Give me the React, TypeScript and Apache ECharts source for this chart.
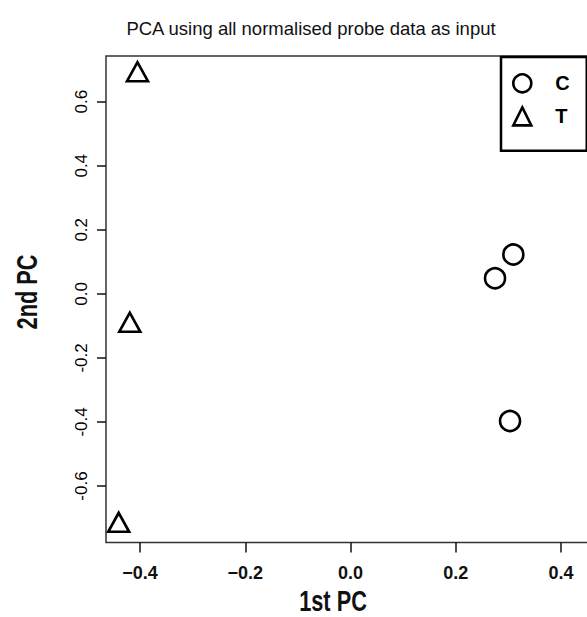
import React, { useEffect, useRef } from "react";
import * as echarts from "echarts";

const titleText = "PCA using all normalised probe data as input";
const xAxisTitle = "1st PC";
const yAxisTitle = "2nd PC";
const seriesNames = ["C", "T"];
const cX = [0.3094, 0.2746, 0.3031];
const cY = [0.1229, 0.0486, -0.397];
const tX = [-0.4048, -0.4194, -0.4405];
const tY = [0.6834, -0.0988, -0.7234];
const xTicks = [-0.4, -0.2, 0, 0.2, 0.4];
const yTicks = [-0.6, -0.4, -0.2, 0, 0.2, 0.4, 0.6];

const X_MIN = -0.4646;
const X_MAX = 0.46;
const Y_MIN = -0.7764;
const Y_MAX = 0.7427;

export default function App() {
  const ref = useRef<HTMLDivElement>(null);
  useEffect(() => {
    if (!ref.current) return;
    const chart = echarts.init(ref.current, undefined, { renderer: "svg" });
    const font = "'Liberation Sans', Arial, Helvetica, sans-serif";
    const ptStyle = {
      color: "rgba(0,0,0,0)",
      borderColor: "#000",
      borderWidth: 2.6,
      opacity: 1,
    };
    chart.setOption({
      animation: false,
      backgroundColor: "#fff",
      title: {
        text: titleText,
        left: 306,
        top: 14,
        textAlign: "center",
        textStyle: { fontFamily: font, fontSize: 18.5, fontWeight: "normal", color: "#111" },
      },
      legend: {
        left: 501,
        top: 57,
        orient: "vertical",
        borderColor: "#000",
        borderWidth: 2.5,
        padding: [16, 17, 24, 11],
        itemGap: 12.5,
        itemWidth: 18,
        itemHeight: 18,
        textStyle: {
          fontFamily: font,
          fontSize: 20,
          fontWeight: "bold",
          color: "#000",
          lineHeight: 18,
          padding: [0, 0, 0, 19],
        },
        data: [
          { name: seriesNames[0], icon: "circle", itemStyle: { ...ptStyle } },
          { name: seriesNames[1], icon: "triangle", itemStyle: { ...ptStyle } },
        ],
      },
      grid: {
        left: 106,
        top: 56,
        width: 486.6,
        height: 486.5,
        show: true,
        borderColor: "#333",
        borderWidth: 1.5,
        backgroundColor: "transparent",
      },
      xAxis: {
        type: "value",
        min: X_MIN,
        max: X_MAX,
        splitLine: { show: false },
        axisLine: { show: false, onZero: false },
        axisTick: {
          show: true,
          length: 10,
          lineStyle: { color: "#111", width: 1.5 },
          customValues: xTicks,
        },
        axisLabel: {
          customValues: xTicks,
          margin: 21,
          fontFamily: font,
          fontSize: 18,
          fontWeight: "bold",
          color: "#111",
          formatter: (v: number) => (v < 0 ? "\u2212" + Math.abs(v).toFixed(1) : v.toFixed(1)),
        },
      },
      yAxis: {
        type: "value",
        min: Y_MIN,
        max: Y_MAX,
        splitLine: { show: false },
        axisLine: { show: false, onZero: false },
        axisTick: {
          show: true,
          length: 9,
          lineStyle: { color: "#111", width: 1.5 },
          customValues: yTicks,
        },
        axisLabel: {
          customValues: yTicks,
          rotate: 90,
          margin: 16,
          fontFamily: font,
          fontSize: 17,
          color: "#000",
          formatter: (v: number) => (v < 0 ? "-" + Math.abs(v).toFixed(1) : v.toFixed(1)),
        },
      },
      graphic: [
        {
          type: "text",
          x: 333,
          y: 601,
          scaleX: 0.75,
          style: {
            text: xAxisTitle,
            fontFamily: font,
            fontSize: 29,
            fontWeight: "bold",
            fill: "#111",
            textAlign: "center",
            textVerticalAlign: "middle",
          },
        },
        {
          type: "text",
          x: 27,
          y: 292,
          rotation: Math.PI / 2,
          scaleX: 0.75,
          style: {
            text: yAxisTitle,
            fontFamily: font,
            fontSize: 29,
            fontWeight: "bold",
            fill: "#111",
            textAlign: "center",
            textVerticalAlign: "middle",
          },
        },
      ],
      series: [
        {
          name: seriesNames[0],
          type: "scatter",
          symbol: "circle",
          symbolSize: 20,
          itemStyle: ptStyle,
          data: cX.map((x, i) => [x, cY[i]]),
        },
        {
          name: seriesNames[1],
          type: "scatter",
          symbol: "triangle",
          symbolSize: [21, 19],
          symbolOffset: [0, -3.2],
          itemStyle: ptStyle,
          data: tX.map((x, i) => [x, tY[i]]),
        },
      ],
    });
    return () => chart.dispose();
  }, []);
  return (
    <div style={{ position: "absolute", left: 0, top: 0, width: 587, height: 617, overflow: "hidden", background: "#fff" }}>
      <div ref={ref} style={{ width: 600, height: 617 }} />
    </div>
  );
}
